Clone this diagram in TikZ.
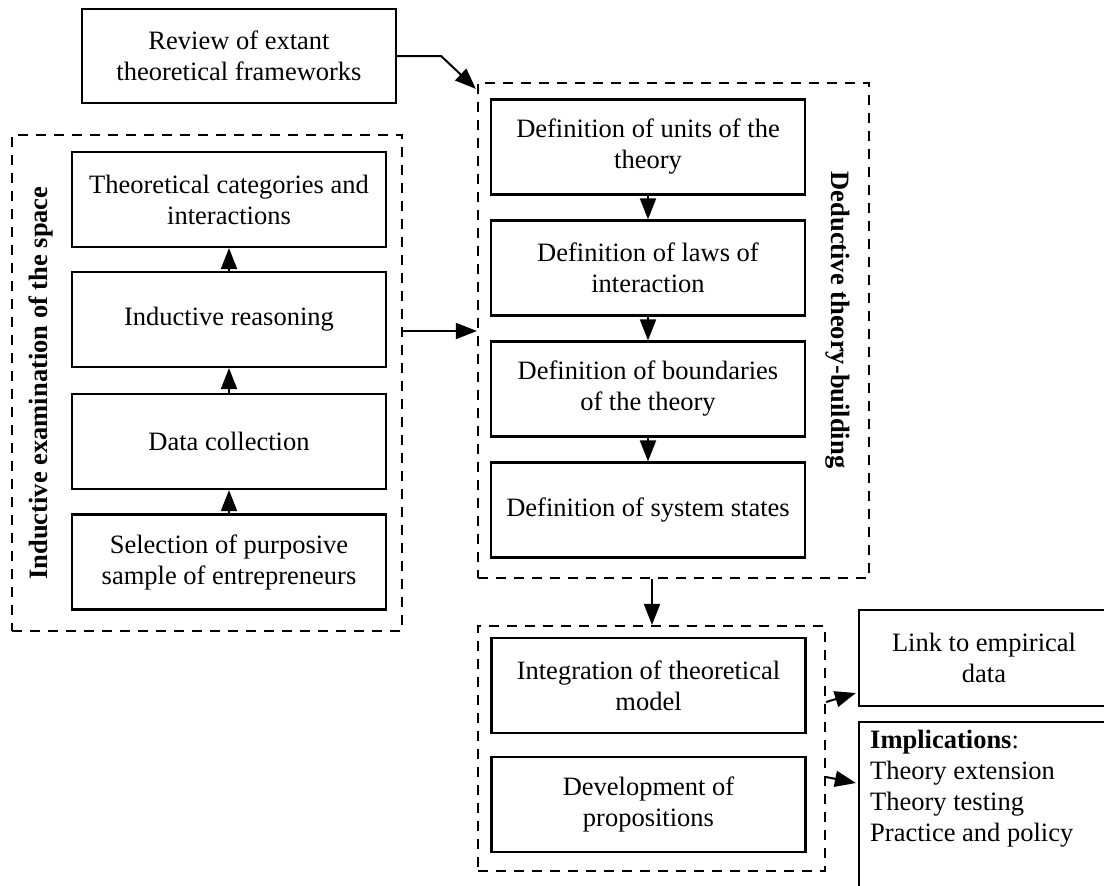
\documentclass[tikz,border=0pt]{standalone}
\usepackage{fontspec}
\setmainfont{Liberation Serif}
\usetikzlibrary{arrows.meta,calc}
\begin{document}
\begin{tikzpicture}[x=1pt,y=-1pt,
  every node/.style={font=\fontsize{26.5}{31}\selectfont},
  box/.style={draw,line width=2.2pt,align=center,inner sep=0pt,minimum width=314pt,minimum height=95pt},
  grp/.style={draw,line width=2.2pt,dash pattern=on 10pt off 8pt,inner sep=0pt},
  arr/.style={line width=2pt,-{Triangle[length=21pt,width=16pt]}},
  vlab/.style={font=\fontsize{26.5}{31}\selectfont\bfseries}]
\clip (0,0) rectangle (1104,886);
% containers
\node[grp,minimum width=390pt,minimum height=496pt] (induct) at (207,383) {};
\node[grp,minimum width=391pt,minimum height=495pt] (deduct) at (673.5,330.5) {};
\node[grp,minimum width=347pt,minimum height=245pt] (integ) at (651.5,748.5) {};
% top box
\node[box,minimum width=314pt,minimum height=94pt] (review) at (239,56) {Review of extant\\theoretical frameworks};
% left column
\node[box] (indA) at (229,199.5) {Theoretical categories and\\interactions};
\node[box] (indB) at (229,319.5) {Inductive reasoning};
\node[box] (indC) at (229,441.5) {Data collection};
\node[box] (indD) at (229,562) {Selection of purposive\\sample of entrepreneurs};
% right column
\node[box] (dedA) at (648,147) {Definition of units of the\\theory};
\node[box] (dedB) at (648,268) {Definition of laws of\\interaction};
\node[box] (dedC) at (648,389) {Definition of boundaries\\of the theory};
\node[box] (dedD) at (648,510) {Definition of system states};
% bottom group
\node[box] (intA) at (648.5,685.5) {Integration of theoretical\\model};
\node[box] (intB) at (648.5,804.5) {Development of\\propositions};
% outputs
\node[box,minimum width=250pt,minimum height=96pt] (link) at (984,658) {Link to empirical\\data};
\node[box,minimum width=250pt,minimum height=180pt] (impl) at (984,812) {};
\node[anchor=north west,align=left,inner sep=0pt] (impltext) at (870,730)
  {\textbf{Implications}:\\Theory extension\\Theory testing\\Practice and policy};
% vertical labels
\node[vlab,rotate=90] (indlab) at (41,383) {Inductive examination of the space};
\node[vlab,rotate=-90] (dedlab) at (838,320) {Deductive theory-building};
% arrows left column
\draw[arr] (indD.north) -- (indC.south);
\draw[arr] (indC.north) -- (indB.south);
\draw[arr] (indB.north) -- (indA.south);
% arrows right column
\draw[arr] (dedA.south) -- (dedB.north);
\draw[arr] (dedB.south) -- (dedC.north);
\draw[arr] (dedC.south) -- (dedD.north);
% connections
\coordinate (rv1) at ($(review.east)+(44,0)$);
\draw[arr] (review.east) -- (rv1) -- ($(deduct.north west)+(-1,7)$);
\coordinate (m1) at ($(induct.east)+(0,-52)$);
\draw[arr] (m1) -- (m1 -| deduct.west);
\coordinate (d1) at ($(deduct.south)+(-21.5,0)$);
\draw[arr] (d1) -- (d1 |- integ.north);
\coordinate (o1) at ($(integ.east)+(0,-46.5)$);
\draw[arr] (o1) -- ($(link.west)+(-2,35)$);
\coordinate (o2) at ($(integ.east)+(0,28.5)$);
\draw[arr] (o2) -- ($(impl.west)+(-2,-29)$);
\end{tikzpicture}
\end{document}
